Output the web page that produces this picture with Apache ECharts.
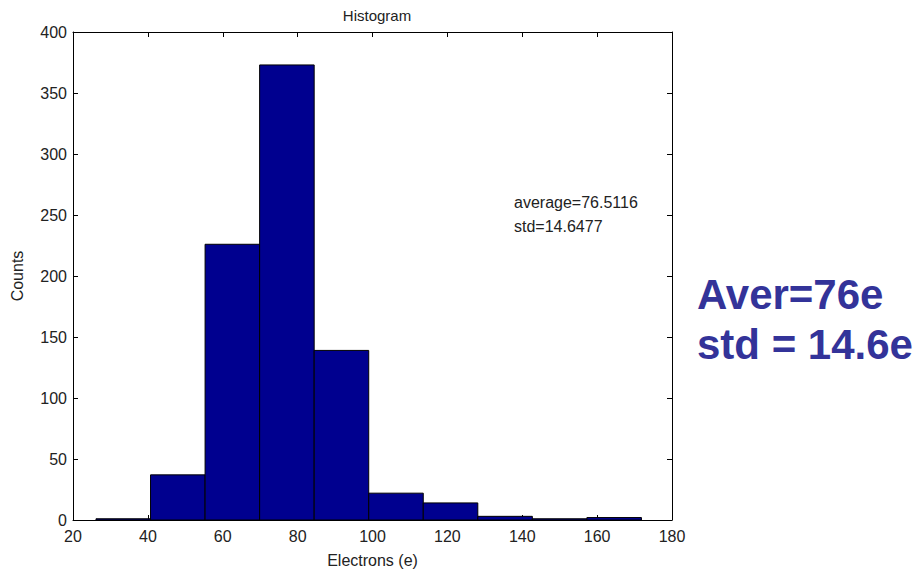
<!DOCTYPE html>
<html>
<head>
<meta charset="utf-8">
<script src="https://cdn.jsdelivr.net/npm/echarts@6/dist/echarts.min.js"></script>
<style>
html,body{margin:0;padding:0;background:#fff;}
#chart{width:921px;height:573px;}
</style>
</head>
<body>
<div id="chart"></div>
<script>
// Histogram bin edges (Electrons, e) and counts
const binStarts = [26.14, 40.71, 55.28, 69.85, 84.42, 98.99, 113.56, 128.13, 142.70, 157.27];
const binEnds   = [40.71, 55.28, 69.85, 84.42, 98.99, 113.56, 128.13, 142.70, 157.27, 171.84];
const counts    = [1, 37, 226, 373, 139, 22, 14, 3, 1, 2];
const xTicks = [20, 40, 60, 80, 100, 120, 140, 160, 180];
const yTicks = [0, 50, 100, 150, 200, 250, 300, 350, 400];
const titleText = 'Histogram';
const xLabel = 'Electrons (e)';
const yLabel = 'Counts';
const statLines = ['average=76.5116', 'std=14.6477'];
const bigLines = ['Aver=76e', 'std = 14.6e'];

const FONT = '"Liberation Sans", Arial, sans-serif';
const data = binStarts.map((s, i) => [s, binEnds[i], counts[i]]);

const chart = echarts.init(document.getElementById('chart'), null, {renderer: 'svg'});
const axisLine = {show: true, onZero: false, lineStyle: {color: '#000', width: 1}};
const axisTick = {show: true, inside: true, length: 5, lineStyle: {color: '#000', width: 1}};

chart.setOption({
  animation: false,
  backgroundColor: '#fff',
  grid: {left: 73, right: 249, top: 32, bottom: 50, containLabel: false},
  xAxis: [
    {type: 'value', min: xTicks[0], max: xTicks[xTicks.length-1], interval: 20,
     position: 'bottom', axisLine, axisTick, splitLine: {show: false},
     axisLabel: {color: '#222', fontFamily: FONT, fontSize: 16, margin: 8},
     name: xLabel, nameLocation: 'middle', nameGap: 32,
     nameTextStyle: {color: '#222', fontFamily: FONT, fontSize: 16}},
    {type: 'value', min: xTicks[0], max: xTicks[xTicks.length-1], interval: 20,
     position: 'top', axisLine, axisTick, splitLine: {show: false},
     axisLabel: {show: false}}
  ],
  yAxis: [
    {type: 'value', min: yTicks[0], max: yTicks[yTicks.length-1], interval: 50,
     position: 'left', axisLine, axisTick, splitLine: {show: false},
     axisLabel: {color: '#222', fontFamily: FONT, fontSize: 16, margin: 6},
     name: yLabel, nameLocation: 'middle', nameGap: 48, nameRotate: 90,
     nameTextStyle: {color: '#222', fontFamily: FONT, fontSize: 16}},
    {type: 'value', min: yTicks[0], max: yTicks[yTicks.length-1], interval: 50,
     position: 'right', axisLine, axisTick, splitLine: {show: false},
     axisLabel: {show: false}}
  ],
  title: {text: titleText, left: 372, top: 3, textAlign: 'center',
          textStyle: {color: '#222', fontFamily: FONT, fontSize: 15, fontWeight: 'normal'}},
  series: [{
    type: 'custom',
    xAxisIndex: 0, yAxisIndex: 0,
    data: data,
    encode: {x: [0, 1], y: 2},
    renderItem: function (params, api) {
      const p0 = api.coord([api.value(0), 0]);
      const p1 = api.coord([api.value(1), api.value(2)]);
      return {
        type: 'rect',
        shape: {x: p0[0], y: p1[1], width: p1[0] - p0[0], height: p0[1] - p1[1]},
        style: {fill: '#00008F', stroke: '#000', lineWidth: 1}
      };
    }
  }],
  graphic: [
    {type: 'text', left: 514, top: 194, style: {text: statLines[0], fill: '#222', font: '16px ' + FONT}},
    {type: 'text', left: 514, top: 218, style: {text: statLines[1], fill: '#222', font: '16px ' + FONT}},
    {type: 'text', left: 697, top: 273, style: {text: bigLines[0], fill: '#333399', font: 'bold 42px ' + FONT}},
    {type: 'text', left: 697, top: 323, style: {text: bigLines[1], fill: '#333399', font: 'bold 42px ' + FONT}}
  ]
});
</script>
</body>
</html>
